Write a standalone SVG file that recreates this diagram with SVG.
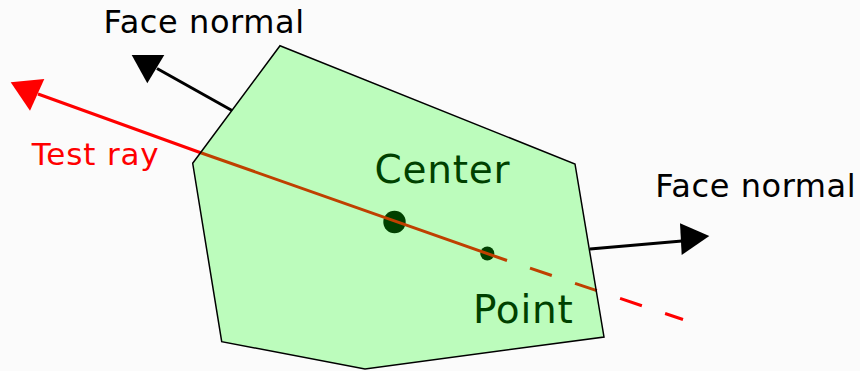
<svg xmlns="http://www.w3.org/2000/svg" width="860" height="371" viewBox="0 0 860 371">
<style>
text{font-family:"DejaVu Sans","Liberation Sans",sans-serif}
.lbl{font-size:32px;fill:#000}
.inner{font-size:39px;fill:#000}
.ray{fill:none;stroke:#ff0000;stroke-width:3}
.nrm{fill:none;stroke:#000;stroke-width:3}
</style>
<rect width="860" height="371" fill="#fbfbfb"/>
<g id="center"><circle cx="394.5" cy="222" r="11.2" fill="#000"/><text class="inner" x="374.5" y="183.3" textLength="135" lengthAdjust="spacing">Center</text></g>
<g id="point"><circle cx="487.3" cy="253.5" r="7" fill="#000"/><text class="inner" x="472.9" y="323.3" textLength="100" lengthAdjust="spacing">Point</text></g>
<g id="connectors">
<path class="ray" d="M38,94 L200,152.5 L507,260.5"/>
<path class="ray" d="M530,268.2 L683,319.5" stroke-dasharray="23 24.5"/>
<polygon points="10.7,82.3 44.3,79 30,110.7" fill="#ff0000"/>
<path class="nrm" d="M232,110.5 L157,68.5"/>
<polygon points="131.7,55 164.3,55 147.3,83.3" fill="#000"/>
<path class="nrm" d="M590,249 L682,241"/>
<polygon points="709.3,236 680,223.3 681.7,255" fill="#000"/>
</g>
<g id="face">
<polygon points="280,45.7 575,164 604,337 365,369 221.7,341.7 192.7,163.3" fill="#00ff00" fill-opacity="0.25" stroke="#000" stroke-width="1.5"/>
</g>
<g id="labels">
<text class="lbl" x="103.6" y="33" textLength="200.5" lengthAdjust="spacing">Face normal</text>
<text class="lbl" x="655.2" y="196.7" textLength="200.5" lengthAdjust="spacing">Face normal</text>
<text class="lbl" x="31.7" y="165" style="fill:#ff0000;font-size:31px" textLength="127" lengthAdjust="spacing">Test ray</text>
</g>
</svg>
